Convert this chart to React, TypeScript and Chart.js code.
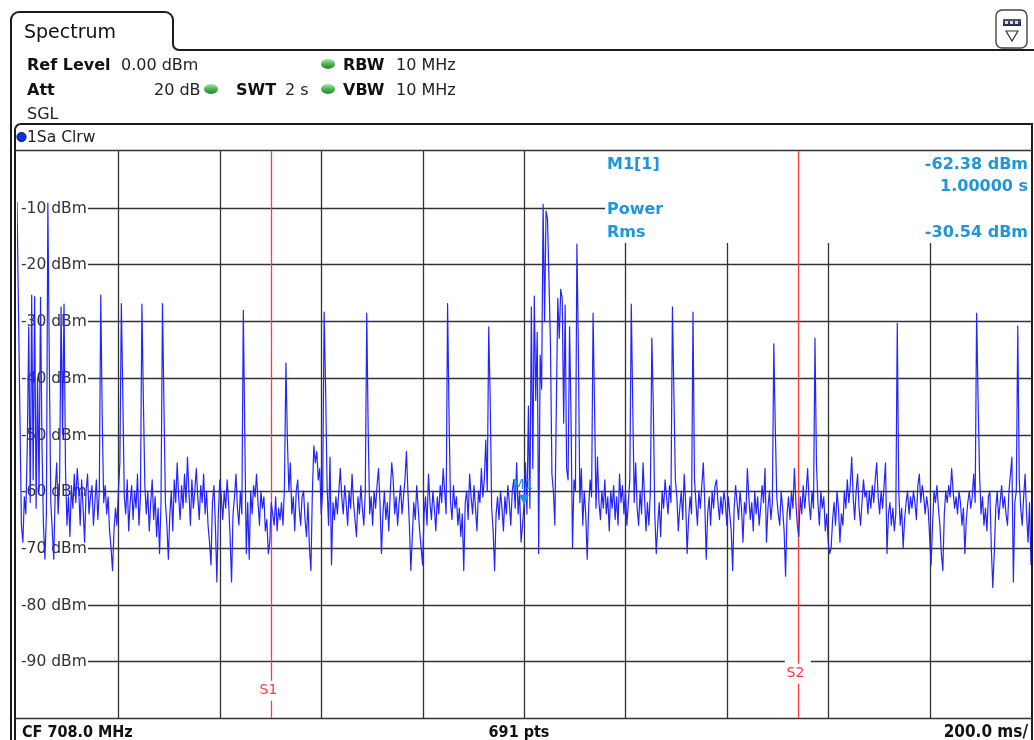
import React, { useEffect, useRef } from "react";
import { Chart, registerables } from "chart.js";

Chart.register(...registerables);

const W = 1034;
const H = 740;

// Sweep: 691 points across 2 s (10 divisions of 200 ms)
const SWEEP_TIME = 2;
const X_DIVISIONS = [0.2, 0.4, 0.6, 0.8, 1.0, 1.2, 1.4, 1.6, 1.8];
const Y_TICKS = [-10, -20, -30, -40, -50, -60, -70, -80, -90];
const Y_MIN = -100;
const Y_MAX = 0;

// Trace 1 (Clear/Write), dBm
const TRACE: number[] = [
  -9, -28, -47, -66, -69, -61, -64, -52, -31, -62, -25.4, -58, -25.7, -63, -40, -60, -25.8, -52, -66, -72,
  -64, -9.2, -38, -62, -67, -72, -60, -55, -64, -58, -27.5, -50, -27, -56, -66, -61, -68, -59, -63, -57,
  -62, -56, -60, -66, -58, -63, -69, -60, -57, -64, -61, -59, -66, -62, -58, -65, -60, -25.4, -47, -62,
  -59, -64, -61, -67, -70, -74, -67, -63, -66, -60, -55, -26.9, -43, -61, -64, -58, -67, -62, -59, -65,
  -60, -63, -57, -66, -61, -27, -44, -59, -64, -60, -67, -62, -58, -65, -61, -68, -63, -71, -62, -26.9,
  -45, -62, -66, -72, -64, -60, -67, -58, -62, -55, -61, -65, -59, -63, -57, -62, -54, -60, -66, -58,
  -63, -60, -56, -61, -65, -59, -62, -57, -64, -60, -66, -69, -73, -62, -59, -66, -76, -64, -58, -61,
  -65, -60, -63, -58, -62, -68, -76, -64, -61, -57, -63, -66, -60, -64, -28.1, -50, -71, -62, -72, -60,
  -64, -59, -61, -57, -62, -66, -60, -63, -61, -67, -65, -71, -69, -62, -64, -66, -61, -67, -63, -65,
  -62, -66, -59, -37.4, -51, -60, -55, -64, -61, -67, -60, -58, -63, -66, -61, -60, -65, -68, -62, -70,
  -74, -60, -52, -55, -53, -58, -56, -64, -60, -28.4, -42, -59, -66, -54, -73, -62, -65, -61, -64, -60,
  -56, -61, -64, -59, -62, -66, -60, -63, -57, -62, -65, -68, -61, -64, -59, -63, -66, -60, -28.6, -50,
  -64, -61, -66, -60, -63, -59, -56, -62, -71, -64, -60, -65, -62, -67, -60, -55, -58, -64, -61, -66,
  -62, -59, -64, -61, -58, -53, -60, -66, -74, -68, -62, -65, -59, -63, -67, -70, -73, -64, -61, -66,
  -57, -62, -65, -60, -63, -67, -61, -64, -59, -62, -56, -60, -64, -26.9, -47, -62, -65, -59, -63, -61,
  -66, -63, -68, -64, -74, -62, -60, -65, -57, -61, -64, -59, -63, -67, -60, -62, -56, -61, -58, -51,
  -60, -31, -44, -63, -67, -74, -64, -61, -65, -60, -63, -67, -61, -64, -59, -62, -66, -60, -58, -63,
  -55, -64, -60, -69, -66, -62.38, -55, -64, -45, -63, -27.5, -56, -25.6, -44, -32, -71, -36, -42, -9.4, -30,
  -10.6, -12, -23, -34, -57, -60, -66, -45, -26, -33, -24.4, -26, -48, -27.2, -56, -58, -31, -47, -70, -58,
  -60, -16.4, -35, -62, -56, -66, -60, -64, -72, -63, -58, -61, -28.6, -45, -63, -54, -62, -65, -60, -63,
  -58, -64, -61, -67, -60, -63, -59, -65, -61, -66, -57, -62, -59, -64, -60, -66, -62, -58, -27, -45,
  -62, -55, -63, -66, -60, -64, -55, -61, -67, -62, -66, -60, -33, -45, -64, -71, -66, -62, -68, -60,
  -63, -58, -61, -64, -59, -62, -27.5, -43, -58, -61, -67, -63, -60, -65, -57, -62, -71, -65, -61, -64,
  -28.4, -58, -62, -66, -60, -63, -59, -55, -62, -72, -64, -61, -66, -60, -63, -59, -58, -62, -65, -61,
  -64, -60, -62, -66, -61, -64, -67, -74, -63, -59, -62, -65, -60, -63, -69, -62, -64, -56, -61, -65,
  -62, -67, -60, -64, -61, -66, -63, -59, -62, -56, -69, -63, -60, -65, -62, -34, -49, -61, -64, -66,
  -60, -63, -67, -75, -64, -61, -65, -60, -63, -56, -62, -66, -68, -61, -64, -59, -63, -60, -56, -62,
  -65, -60, -63, -33, -55, -62, -66, -60, -63, -61, -67, -64, -69, -71, -70, -65, -62, -66, -60, -63,
  -69, -64, -66, -60, -63, -58, -62, -59, -54, -61, -65, -60, -57, -63, -66, -62, -58, -61, -60, -64,
  -60, -63, -59, -62, -58, -55, -61, -64, -60, -63, -59, -55, -71, -64, -62, -66, -63, -67, -64, -30.4,
  -60, -66, -63, -70, -65, -62, -60, -64, -61, -63, -60, -62, -65, -59, -57, -62, -59, -61, -64, -61,
  -63, -68, -73, -66, -60, -62, -59, -63, -66, -71, -74, -64, -60, -62, -59, -61, -56, -60, -63, -61,
  -64, -60, -62, -66, -63, -71, -65, -62, -60, -63, -61, -57, -62, -28.6, -44, -57, -64, -61, -66, -63,
  -67, -61, -60, -70, -77, -71, -63, -60, -65, -62, -59, -63, -61, -64, -66, -60, -57, -54, -76, -62,
  -60, -30.9, -58, -63, -66, -61, -57, -64, -69, -62, -73,
];

// Marker M1 and display lines S1/S2
const MARKER_T = 1.0;
const MARKER_LEVEL = -62.38;
const S_LINES = [
  { name: "S1", t: 0.5, labelLevel: -95.2 },
  { name: "S2", t: 1.54, labelLevel: -92.2 },
];

const FONT = "'DejaVu Sans', Verdana, sans-serif";
const GRID = "#333333";
const BLUE_TXT = "#1e96dc";
const RED = "#ff3b3b";

function txt(ctx: CanvasRenderingContext2D, s: string, x: number, y: number, font: string, color: string, align: CanvasTextAlign = "left", base: CanvasTextBaseline = "alphabetic") {
  ctx.font = font;
  ctx.fillStyle = color;
  ctx.textAlign = align;
  ctx.textBaseline = base;
  ctx.fillText(s, x, y);
}

function greenDot(ctx: CanvasRenderingContext2D, x: number, y: number) {
  const g = ctx.createLinearGradient(0, y - 5, 0, y + 5);
  g.addColorStop(0, "#a6e8a6");
  g.addColorStop(0.5, "#4fb34f");
  g.addColorStop(1, "#2b7f2b");
  ctx.fillStyle = g;
  ctx.beginPath();
  ctx.ellipse(x, y, 7, 5, 0, 0, Math.PI * 2);
  ctx.fill();
}

const decoPlugin = {
  id: "deco",
  beforeDatasetsDraw(chart: any) {
    const ctx: CanvasRenderingContext2D = chart.ctx;
    const xs = chart.scales.x;
    const ys = chart.scales.y;
    const a = chart.chartArea;
    ctx.save();

    // ---- header tab
    ctx.strokeStyle = "#1c1c1c";
    ctx.lineWidth = 2;
    ctx.beginPath();
    ctx.moveTo(11, H);
    ctx.lineTo(11, 20);
    ctx.arcTo(11, 12, 19, 12, 8);
    ctx.lineTo(165, 12);
    ctx.arcTo(173, 12, 173, 20, 8);
    ctx.lineTo(173, 44);
    ctx.arcTo(173, 50, 179, 50, 6);
    ctx.lineTo(W, 50);
    ctx.stroke();

    txt(ctx, "Spectrum", 24, 38, `19px ${FONT}`, "#111");

    // top-right icon
    ctx.fillStyle = "#fff";
    ctx.beginPath();
    ctx.roundRect(996, 10, 31, 38, 6);
    ctx.fill();
    ctx.lineWidth = 1.4;
    ctx.strokeStyle = "#444";
    ctx.stroke();
    const bg = ctx.createLinearGradient(0, 19, 0, 27);
    bg.addColorStop(0, "#55597a");
    bg.addColorStop(1, "#1d2040");
    ctx.fillStyle = bg;
    ctx.fillRect(1003, 19, 18, 7);
    ctx.fillStyle = "#d8dbe8";
    ctx.fillRect(1005, 21, 3, 3);
    ctx.fillRect(1010, 21, 3, 3);
    ctx.fillRect(1015, 21, 3, 3);
    ctx.strokeStyle = "#333";
    ctx.lineWidth = 1.2;
    ctx.beginPath();
    ctx.moveTo(1006, 31);
    ctx.lineTo(1018, 31);
    ctx.lineTo(1012, 41);
    ctx.closePath();
    ctx.stroke();

    // settings block
    const reg = `16px ${FONT}`;
    const bold = `bold 16px ${FONT}`;
    txt(ctx, "Ref Level", 27, 70, bold, "#111");
    txt(ctx, "0.00 dBm", 121, 70, reg, "#222");
    greenDot(ctx, 328, 64);
    txt(ctx, "RBW", 343, 70, bold, "#111");
    txt(ctx, "10 MHz", 396, 70, reg, "#222");
    txt(ctx, "Att", 27, 95, bold, "#111");
    txt(ctx, "20 dB", 154, 95, reg, "#222");
    greenDot(ctx, 211, 89);
    txt(ctx, "SWT", 236, 95, bold, "#111");
    txt(ctx, "2 s", 285, 95, reg, "#222");
    greenDot(ctx, 328, 89);
    txt(ctx, "VBW", 343, 95, bold, "#111");
    txt(ctx, "10 MHz", 396, 95, reg, "#222");
    txt(ctx, "SGL", 27, 119, reg, "#222");

    // ---- plot frame
    ctx.strokeStyle = "#1c1c1c";
    ctx.lineWidth = 2;
    ctx.beginPath();
    ctx.moveTo(15, H);
    ctx.lineTo(15, 130);
    ctx.arcTo(15, 124, 21, 124, 6);
    ctx.lineTo(1032, 124);
    ctx.lineTo(1032, H);
    ctx.stroke();

    // trace label row
    ctx.fillStyle = "#1030e0";
    ctx.beginPath();
    ctx.arc(21.5, 137, 4.6, 0, Math.PI * 2);
    ctx.fill();
    ctx.strokeStyle = "#0a1a70";
    ctx.lineWidth = 1;
    ctx.stroke();
    txt(ctx, "1Sa Clrw", 27, 142, `15.5px ${FONT}`, "#222");

    // top and bottom border of diagram
    ctx.strokeStyle = GRID;
    ctx.lineWidth = 1.4;
    ctx.beginPath();
    ctx.moveTo(15, Math.round(a.top) - 0.5);
    ctx.lineTo(1032, Math.round(a.top) - 0.5);
    ctx.moveTo(15, Math.round(a.bottom) + 0.5);
    ctx.lineTo(1032, Math.round(a.bottom) + 0.5);
    ctx.stroke();

    // vertical grid
    ctx.lineWidth = 1.3;
    ctx.strokeStyle = GRID;
    for (const t of X_DIVISIONS) {
      const x = Math.round(xs.getPixelForValue(t)) + 0.5;
      const y0 = x > 600 ? 243 : a.top;
      ctx.beginPath();
      ctx.moveTo(x, y0);
      ctx.lineTo(x, a.bottom);
      ctx.stroke();
    }

    // horizontal grid + level labels
    const s2x = xs.getPixelForValue(S_LINES[1].t);
    for (const v of Y_TICKS) {
      const y = Math.round(ys.getPixelForValue(v)) + 0.5;
      ctx.strokeStyle = GRID;
      ctx.lineWidth = 1.3;
      ctx.beginPath();
      if (v === -10) {
        ctx.moveTo(88, y);
        ctx.lineTo(605, y);
      } else if (v === -90) {
        ctx.moveTo(88, y);
        ctx.lineTo(s2x - 13, y);
        ctx.moveTo(s2x + 13, y);
        ctx.lineTo(a.right, y);
      } else {
        ctx.moveTo(88, y);
        ctx.lineTo(a.right, y);
      }
      ctx.stroke();
      txt(ctx, `${v} dBm`, 21, y, `15.5px ${FONT}`, "#333", "left", "middle");
    }

    // display lines S1 / S2
    for (const s of S_LINES) {
      const x = Math.round(xs.getPixelForValue(s.t)) + 0.5;
      const ly = ys.getPixelForValue(s.labelLevel);
      ctx.strokeStyle = RED;
      ctx.lineWidth = 1.3;
      ctx.beginPath();
      ctx.moveTo(x, a.top);
      ctx.lineTo(x, ly - 10);
      ctx.moveTo(x, ly + 10);
      ctx.lineTo(x, a.bottom);
      ctx.stroke();
      txt(ctx, s.name, x - 3, ly, `14px ${FONT}`, RED, "center", "middle");
    }

    // marker info
    const mb = `bold 16px ${FONT}`;
    txt(ctx, "M1[1]", 607, 169, mb, BLUE_TXT);
    txt(ctx, "-62.38 dBm", 1028, 169, mb, BLUE_TXT, "right");
    txt(ctx, "1.00000 s", 1028, 191, mb, BLUE_TXT, "right");
    txt(ctx, "Power", 607, 214, mb, BLUE_TXT);
    txt(ctx, "Rms", 607, 237, mb, BLUE_TXT);
    txt(ctx, "-30.54 dBm", 1028, 237, mb, BLUE_TXT, "right");

    // footer
    const ff = `bold 16px 'DejaVu Sans Condensed', ${FONT}`;
    txt(ctx, "CF 708.0 MHz", 22, 737, ff, "#111");
    txt(ctx, "691 pts", 519, 737, ff, "#111", "center");
    txt(ctx, "200.0 ms/", 1028, 737, `bold 17px 'DejaVu Sans Condensed', ${FONT}`, "#111", "right");

    ctx.restore();
  },
  afterDatasetsDraw(chart: any) {
    const ctx: CanvasRenderingContext2D = chart.ctx;
    const x = chart.scales.x.getPixelForValue(MARKER_T);
    const y = chart.scales.y.getPixelForValue(MARKER_LEVEL);
    ctx.save();
    ctx.fillStyle = BLUE_TXT;
    ctx.beginPath();
    ctx.moveTo(x - 5, y - 10);
    ctx.lineTo(x + 5, y - 10);
    ctx.lineTo(x, y);
    ctx.closePath();
    ctx.fill();
    txt(ctx, "M1", x - 1, y - 19, `14px ${FONT}`, BLUE_TXT, "center", "middle");
    ctx.restore();
  },
};

export default function App() {
  const ref = useRef<HTMLCanvasElement | null>(null);

  useEffect(() => {
    document.body.style.margin = "0";
    const canvas = ref.current!;
    const points = TRACE.map((v, i) => ({ x: (i * SWEEP_TIME) / (TRACE.length - 1), y: v }));
    const chart = new Chart(canvas, {
      type: "line",
      data: {
        datasets: [
          {
            data: points,
            borderColor: "#2424ff",
            borderWidth: 1.2,
            pointRadius: 0,
            tension: 0,
            borderJoinStyle: "round",
            fill: false,
          },
        ],
      },
      options: {
        animation: false,
        responsive: false,
        devicePixelRatio: 1,
        layout: { padding: { left: 17, right: 3, top: 151, bottom: 22 } },
        plugins: { legend: { display: false }, tooltip: { enabled: false } },
        scales: {
          x: { type: "linear", min: 0, max: SWEEP_TIME, display: false },
          y: { type: "linear", min: Y_MIN, max: Y_MAX, display: false },
        },
      },
      plugins: [decoPlugin],
    });
    return () => chart.destroy();
  }, []);

  return (
    <div style={{ position: "absolute", left: 0, top: 0, width: W, height: H, background: "#fff" }}>
      <canvas ref={ref} width={W} height={H} style={{ display: "block" }} />
    </div>
  );
}
